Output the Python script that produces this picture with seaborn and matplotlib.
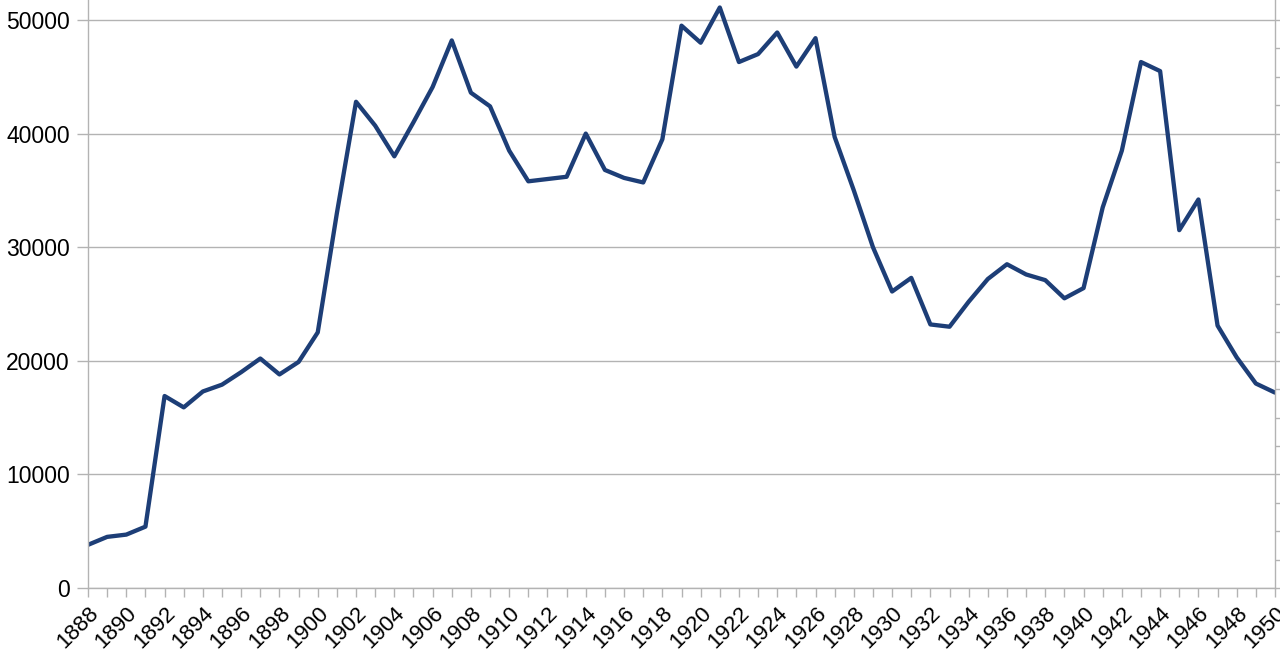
import matplotlib
matplotlib.use("Agg")
import matplotlib.pyplot as plt
import seaborn as sns
import numpy as np
import pandas as pd
from matplotlib.ticker import MultipleLocator

years = list(range(1888, 1951))
values = [3800, 4500, 4700, 5400, 16900, 15900, 17300, 17900, 19000, 20200,
          18800, 19900, 22500, 33000, 42800, 40700, 38000, 41000, 44100, 48200,
          43600, 42400, 38500, 35800, 36000, 36200, 40000, 36800, 36100, 35700,
          39500, 49500, 48000, 51100, 46300, 47000, 48900, 45900, 48400, 39700,
          35000, 30000, 26100, 27300, 23200, 23000, 25200, 27200, 28500, 27600,
          27100, 25500, 26400, 33500, 38500, 46300, 45500, 31500, 34200, 23100,
          20300, 18000, 17200]
y_ticks = [0, 10000, 20000, 30000, 40000, 50000]
x_tick_labels = [str(y) for y in range(1888, 1951, 2)]

df = pd.DataFrame({"year": years, "value": values})

sns.set_theme(style="white")
plt.rcParams['font.family'] = ['Liberation Sans', 'DejaVu Sans']

fig = plt.figure(figsize=(12.8, 6.59), dpi=100)
ax = fig.add_axes([88/1280, 71/659, (1275-88)/1280, 588/659])

sns.lineplot(data=df, x="year", y="value", ax=ax, color="#1d3e77", linewidth=3.1)

grid_c = "#b3b3b3"
ax.set_xlim(1888, 1950)
ax.set_ylim(0, 51760)
ax.xaxis.set_minor_locator(MultipleLocator(1))
ax.yaxis.grid(True, color=grid_c, linewidth=1.0)
ax.xaxis.grid(False)
ax.set_xlabel("")
ax.set_ylabel("")
for s in ["left", "bottom", "right"]:
    ax.spines[s].set_visible(True)
    ax.spines[s].set_color(grid_c)
    ax.spines[s].set_linewidth(1.0)
ax.spines["top"].set_visible(False)
ax.tick_params(axis="both", which="both", direction="out", color=grid_c,
               width=1.0, labelcolor="black")
ax.tick_params(axis="x", which="both", bottom=True, length=6.5, pad=4)
ax.tick_params(axis="y", left=True, length=8, pad=5)
ax.set_yticks(y_ticks)
ax.set_yticklabels([str(v) for v in y_ticks], fontsize=16.5)
ax.set_xticks(list(range(1888, 1951, 2)))
ax.set_xticklabels(x_tick_labels, rotation=45, ha="right",
                   rotation_mode="anchor", fontsize=16)

ax2 = ax.twinx()
ax2.set_ylim(0, 51760)
ax2.set_yticks(np.arange(0, 51761, 2500))
ax2.set_yticklabels([])
ax2.tick_params(axis="y", direction="out", color=grid_c, length=5, width=1.0, right=True)
for s in ax2.spines.values():
    s.set_visible(False)

fig.savefig("out.png", dpi=100)
